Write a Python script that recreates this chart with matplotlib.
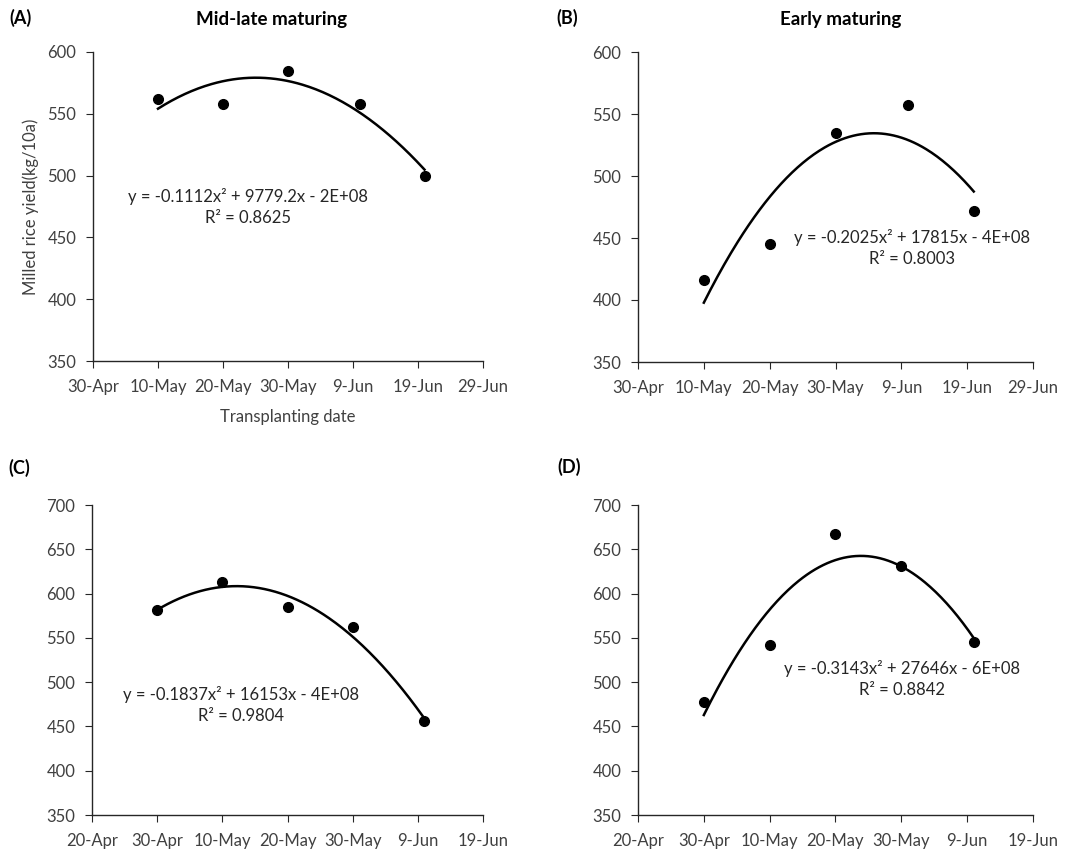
import numpy as np
import matplotlib
matplotlib.use('Agg')
import matplotlib.pyplot as plt
import matplotlib.dates as mdates
import datetime as dt

plt.rcParams['font.family'] = ['Lato', 'DejaVu Sans']

# transplanting dates and milled rice yield (kg/10a)
dates_a = ['2019-05-10', '2019-05-20', '2019-05-30', '2019-06-10', '2019-06-20']
yield_a = [562, 558, 585, 558, 500]
dates_b = ['2019-05-10', '2019-05-20', '2019-05-30', '2019-06-10', '2019-06-20']
yield_b = [416, 445, 535, 557, 472]
dates_c = ['2019-04-30', '2019-05-10', '2019-05-20', '2019-05-30', '2019-06-10']
yield_c = [581, 613, 585, 562, 456]
dates_d = ['2019-04-30', '2019-05-10', '2019-05-20', '2019-05-30', '2019-06-10']
yield_d = [478, 542, 667, 631, 545]

eq_a = 'y = -0.1112x² + 9779.2x - 2E+08\nR² = 0.8625'
eq_b = 'y = -0.2025x² + 17815x - 4E+08\nR² = 0.8003'
eq_c = 'y = -0.1837x² + 16153x - 4E+08\nR² = 0.9804'
eq_d = 'y = -0.3143x² + 27646x - 6E+08\nR² = 0.8842'

W, H = 1073, 850
fig = plt.figure(figsize=(W / 100, H / 100), dpi=100)

def px(x0, y0, x1, y1):
    return [x0 / W, 1 - y1 / H, (x1 - x0) / W, (y1 - y0) / H]

def panel(rect, dates, ys, start, ylim, yticks):
    ax = fig.add_axes(rect)
    xs = mdates.date2num([dt.datetime.strptime(d, '%Y-%m-%d') for d in dates])
    ax.plot(xs, ys, 'o', color='black', ms=7, zorder=3)
    c = np.polyfit(xs, ys, 2)
    xx = np.linspace(xs[0], xs[-1], 200)
    ax.plot(xx, np.polyval(c, xx), color='black', lw=1.8)
    s = mdates.date2num(dt.datetime.strptime(start, '%Y-%m-%d'))
    ticks = [s + 10 * i for i in range(7)]
    ax.set_xlim(ticks[0], ticks[-1])
    ax.set_xticks(ticks)
    ax.xaxis.set_major_formatter(mdates.DateFormatter('%-d-%b'))
    ax.set_ylim(*ylim)
    ax.set_yticks(yticks)
    for sp in ['top', 'right']:
        ax.spines[sp].set_visible(False)
    for sp in ['left', 'bottom']:
        ax.spines[sp].set_color('#262626')
        ax.spines[sp].set_linewidth(1.0)
    ax.tick_params(direction='out', length=5, color='#262626', labelsize=12,
                   labelcolor='#404040')
    ax.tick_params(axis='x', pad=8)
    ax.tick_params(axis='y', pad=7)
    return ax

ya = list(range(350, 601, 50))
yc = list(range(350, 701, 50))
axa = panel(px(93, 52, 483, 361), dates_a, yield_a, '2019-04-30', (350, 600), ya)
axb = panel(px(638, 52, 1033, 362), dates_b, yield_b, '2019-04-30', (350, 600), ya)
axc = panel(px(92, 505, 483, 815), dates_c, yield_c, '2019-04-20', (350, 700), yc)
axd = panel(px(638, 505, 1033, 815), dates_d, yield_d, '2019-04-20', (350, 700), yc)

axa.set_ylabel('Milled rice yield(kg/10a)', fontsize=12, color='#404040', labelpad=6)
axa.set_xlabel('Transplanting date', fontsize=12, color='#404040', labelpad=10)

def ftext(x, y, s, **kw):
    fig.text(x / W, 1 - y / H, s, **kw)

ftext(272, 20, 'Mid-late maturing', ha='center', va='center', fontsize=13.5, fontweight='bold')
ftext(841, 20, 'Early maturing', ha='center', va='center', fontsize=13.5, fontweight='bold')
ftext(9, 18, '(A)', ha='left', va='center', fontsize=13, fontweight='bold')
ftext(556, 18, '(B)', ha='left', va='center', fontsize=13, fontweight='bold')
ftext(8, 468, '(C)', ha='left', va='center', fontsize=13, fontweight='bold')
ftext(557, 467, '(D)', ha='left', va='center', fontsize=13, fontweight='bold')

eq_kw = dict(ha='center', va='center', fontsize=12, color='#262626', linespacing=1.35)
ftext(248, 207, eq_a, **eq_kw)
ftext(912, 248, eq_b, **eq_kw)
ftext(241, 705, eq_c, **eq_kw)
ftext(902, 679, eq_d, **eq_kw)

fig.savefig('out.png', dpi=100)
